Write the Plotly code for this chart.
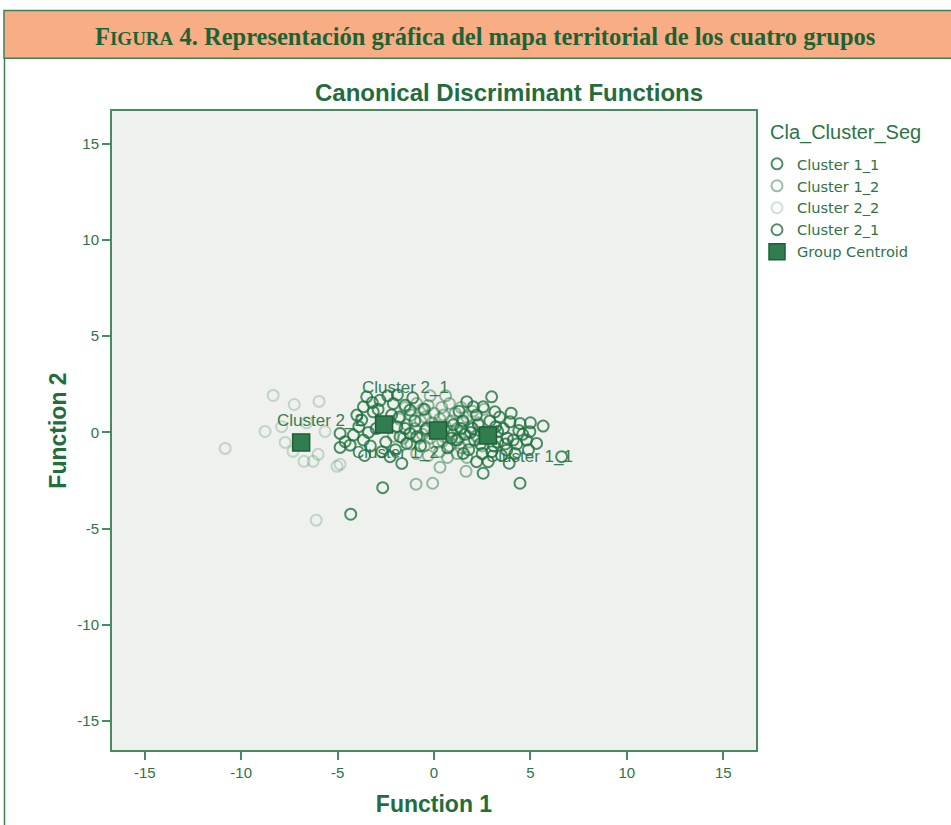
import plotly.graph_objects as go

# ---- data ----
c11_x = [2.99, 2.55, 3.16, 2.04, 3.94, 4.46, 4.97, 4.80, 5.32, 5.66, 4.11, 3.77, 2.21, 2.81, 1.52, 2.55, 4.46, 6.62,
         2.0, 2.4, 3.3, 3.6, 1.5, 1.2, 2.9, 3.5, 4.2, 1.8, 3.0, 4.0, 2.2, 1.0, 4.6, 3.8, 2.6, 3.2, 1.6, 0.7, 3.9, 5.0, 4.4, 1.3,
         2.7, 3.4, 1.9, 2.3, 4.9, 3.1, 0.9, 1.7, 4.3, 2.5, 3.7, 1.4, 2.1, 3.3]
c11_y = [1.85, 1.33, 1.07, 1.33, 0.55, 0.47, 0.04, -0.40, -0.57, 0.33, -0.40, -0.92, -1.52, -1.52, -1.09, -2.12, -2.64, -1.26,
         0.2, -0.6, -0.5, 0.2, 0.6, -0.4, 0.6, -1.2, -1.1, -0.9, -1.0, 1.0, 0.9, 0.4, -0.1, -0.3, 0.0, 0.3, -0.1, -0.8, -1.6, 0.5, 0.1, 1.1,
         -0.3, 0.8, 0.0, 0.4, -0.9, -0.7, -0.3, 1.6, -0.6, -1.1, -0.6, 0.2, -0.4, 0.05]

c12_x = [-1.5, -1.2, -0.9, -0.6, -0.3, 0.0, 0.4, 0.8, 1.1, 1.4, 1.7, 2.0, -1.4, -1.0, -0.7, -0.4, -0.1, 0.3, 0.6, 0.9, 1.2, 1.5,
         1.9, 2.3, -1.6, -1.2, -0.8, -0.5, -0.2, 0.2, 0.5, 0.8, 1.1, 1.4, 1.8, 2.2, -0.9, -0.3, 0.3, 0.7, 1.2, 1.7, 0.0, 0.5, -0.6,
         1.0, -1.8, 2.5, 0.31, -0.93, -0.07, 1.66, -2.1, -0.2, 0.6, 2.6, 0.15, 0.85, -0.45, 1.3, 0.45]
c12_y = [1.3, 0.9, 1.5, 1.2, 1.4, 1.0, 1.3, 1.5, 1.0, 1.3, 0.8, 1.1, 0.4, 0.2, 0.6, 0.1, 0.5, 0.7, 0.3, 0.6, 0.2, 0.5,
         0.3, 0.5, -0.3, -0.6, -0.3, -0.7, -0.3, -0.5, -0.2, -0.7, -0.4, -0.8, -0.5, -0.2, -1.1, -1.2, -1.0, -1.3, -1.1, -1.3, 0.0, 0.9, -0.1,
         -0.1, 0.7, -0.7, -1.81, -2.69, -2.64, -2.02, -0.2, 1.9, 1.9, 1.2, 0.35, 0.05, 0.8, -0.25, -0.45]

c22_x = [-8.34, -7.25, -5.96, -8.76, -10.83, -7.72, -7.31, -6.74, -6.27, -6.01, -5.65, -5.03, -4.87, -6.11, -6.6, -7.9]
c22_y = [1.92, 1.45, 1.61, 0.05, -0.83, -0.52, -0.98, -1.50, -1.50, -1.14, 0.05, -1.76, -1.66, -4.56, 0.5, 0.3]

c21_x = [-3.49, -2.80, -2.11, -1.50, -1.24, -3.66, -3.15, -3.75, -4.87, -4.61, -4.18, -3.66, -4.35, -4.87, -1.93, -1.76, -1.24,
         -1.41, -0.90, -2.28, -1.67, -2.66, -4.32, -2.2, -3.0, -1.8, -2.5, -3.3, -1.0, -0.5, -3.9, -2.9, -1.5, -0.7, -2.0, -4.0,
         -3.2, -1.1, -0.4, -2.7, -3.6, -2.4, -1.9, -3.4]
c21_y = [1.85, 1.67, 1.50, 1.41, 1.16, 1.33, 1.07, 0.64, -0.05, -0.48, -0.14, -0.40, -0.66, -0.78, 0.30, -0.22, -0.05,
         -0.57, -0.22, -1.26, -1.61, -2.87, -4.25, 0.9, 0.2, 0.8, -0.5, -0.7, 0.6, 1.2, 0.3, 1.2, 0.2, -0.7, -0.9, 0.9,
         1.55, 1.8, 0.2, -1.0, -1.2, 1.9, 1.95, 0.0]

centroid_names = ["Cluster 1_1", "Cluster 1_2", "Cluster 2_2", "Cluster 2_1"]
centroid_x = [2.80, 0.21, -6.89, -2.59]
centroid_y = [-0.16, 0.10, -0.52, 0.41]
label_x = [4.97, -2.02, -5.91, -1.50]
label_y = [-1.24, -1.04, 0.62, 2.33]

tick_vals = [-15, -10, -5, 0, 5, 10, 15]
tick_text = ["-15", "-10", "-5", "0", "5", "10", "15"]

GREEN = "rgb(35,108,60)"
TXT = "rgb(45,115,70)"

fig = go.Figure()

series = [
    ("Cluster 1_1", c11_x, c11_y, "rgba(30,112,60,0.78)"),
    ("Cluster 1_2", c12_x, c12_y, "rgba(30,112,60,0.45)"),
    ("Cluster 2_2", c22_x, c22_y, "rgba(30,112,60,0.22)"),
    ("Cluster 2_1", c21_x, c21_y, "rgba(30,112,60,0.78)"),
]
for name, xs, ys, col in series:
    fig.add_trace(go.Scatter(
        x=xs, y=ys, mode="markers", name=name,
        marker=dict(symbol="circle-open", size=11, color=col, line=dict(width=2, color=col)),
    ))

fig.add_trace(go.Scatter(
    x=centroid_x, y=centroid_y, mode="markers", name="Group Centroid",
    marker=dict(symbol="square", size=17, color="rgb(48,125,80)", line=dict(width=1.5, color="rgb(30,95,55)")),
))

for n, lx, ly in zip(centroid_names, label_x, label_y):
    fig.add_annotation(x=lx, y=ly, text=n, showarrow=False, xref="x", yref="y",
                       font=dict(family="Liberation Sans, Arial", size=17, color="rgba(35,110,60,0.9)"))

# pixel helpers for the frame (plot area: x 112..756, y 111..753)
def px(x):
    return (x - 112) / 644.0

def py(y):
    return (753 - y) / 642.0

shapes = [
    dict(type="rect", xref="paper", yref="paper", x0=px(4), x1=px(953), y0=py(58), y1=py(10),
         fillcolor="rgb(249,173,132)", line=dict(color="rgb(60,130,85)", width=1.5), layer="below"),
    dict(type="line", xref="paper", yref="paper", x0=px(4.5), x1=px(4.5), y0=py(58), y1=py(830),
         line=dict(color="rgb(60,130,85)", width=1.5)),
]

annotations_extra = [
    dict(xref="paper", yref="paper", x=px(485), y=py(36), showarrow=False, xanchor="center", yanchor="middle",
         text="<b>F<span style='font-size:19px'>IGURA</span> 4. Representación gráfica del mapa territorial de los cuatro grupos</b>",
         font=dict(family="Liberation Serif, DejaVu Serif, serif", size=24.5, color="rgb(25,100,55)")),
    dict(xref="paper", yref="paper", x=px(509), y=py(92), showarrow=False, xanchor="center", yanchor="middle",
         text="<b>Canonical Discriminant Functions</b>",
         font=dict(family="Liberation Sans, Arial", size=24, color=GREEN)),
    dict(xref="paper", yref="paper", x=px(768), y=py(133), showarrow=False, xanchor="left", yanchor="middle",
         text="Cla_Cluster_Seg",
         font=dict(family="Liberation Sans, Arial", size=20, color=TXT)),
]
for a in annotations_extra:
    fig.add_annotation(**a)

axis_common = dict(
    tickvals=tick_vals, ticktext=tick_text, ticks="outside", ticklen=8, tickwidth=2, tickcolor="rgb(70,140,95)",
    showline=True, linecolor="rgb(70,140,95)", linewidth=2, mirror=True,
    showgrid=False, zeroline=False,
    tickfont=dict(family="Liberation Sans, Arial", size=15, color=TXT),
)

fig.update_layout(
    width=951, height=825,
    margin=dict(l=112, r=195, t=111, b=72),
    paper_bgcolor="white", plot_bgcolor="rgb(238,241,237)",
    showlegend=True,
    legend=dict(x=px(757), y=py(148), xanchor="left", yanchor="top", bgcolor="rgba(0,0,0,0)",
                font=dict(family="DejaVu Sans", size=14.6, color=TXT),
                tracegroupgap=0, itemwidth=30),
    shapes=shapes,
    xaxis=dict(range=[-16.7, 16.7], title=dict(text="<b>Function 1</b>", standoff=16,
               font=dict(family="Liberation Sans, Arial", size=23, color=GREEN)), **axis_common),
    yaxis=dict(range=[-16.5, 16.7], title=dict(text="<b>Function 2</b>", standoff=4,
               font=dict(family="Liberation Sans, Arial", size=23, color=GREEN)), **axis_common),
)

fig.write_html("out.html", config={"displayModeBar": False},
               post_script="document.body.style.margin='0px';")
